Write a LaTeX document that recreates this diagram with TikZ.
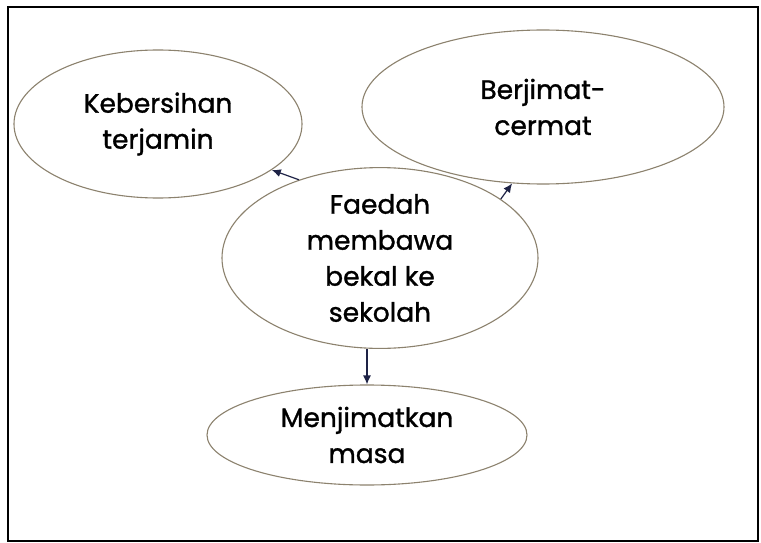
\documentclass[tikz,border=0pt]{standalone}
\usepackage{fontspec}
\setmainfont{Poppins}[FakeBold=1.2]
\usetikzlibrary{arrows.meta,shapes.geometric}
\definecolor{ringcol}{RGB}{140,130,110}
\definecolor{arrcol}{RGB}{30,35,70}
\begin{document}
\begin{tikzpicture}[x=1pt,y=-1pt,
  bubble/.style={draw=ringcol,line width=1.1pt,ellipse,inner sep=0pt,align=center,font=\fontsize{26.5}{36}\selectfont},
  link/.style={draw=arrcol,line width=1.2pt,-{Latex[length=9pt,width=8pt]}}]
\useasboundingbox (0,0) rectangle (761,543);
\fill[white] (0,0) rectangle (761,543);
\draw[line width=2pt] (8,7) rectangle (758,541);
\node[bubble,minimum width=288pt,minimum height=148pt] (keb) at (158,124) {Kebersihan\\terjamin};
\node[bubble,minimum width=362pt,minimum height=154pt] (ber) at (543,107) {Berjimat-\\cermat};
\node[bubble,minimum width=316pt,minimum height=154pt] (fae) at (380,258) {Faedah\\membawa\\bekal ke\\sekolah};
\node[bubble,minimum width=320pt,minimum height=100pt] (men) at (367,435) {Menjimatkan\\masa};
\draw[link] (fae.136) -- (keb.338);
\draw[link] (fae.26) -- (ber.248);
\draw[link] (fae.south -| men.north) -- (men.north);
\end{tikzpicture}
\end{document}
